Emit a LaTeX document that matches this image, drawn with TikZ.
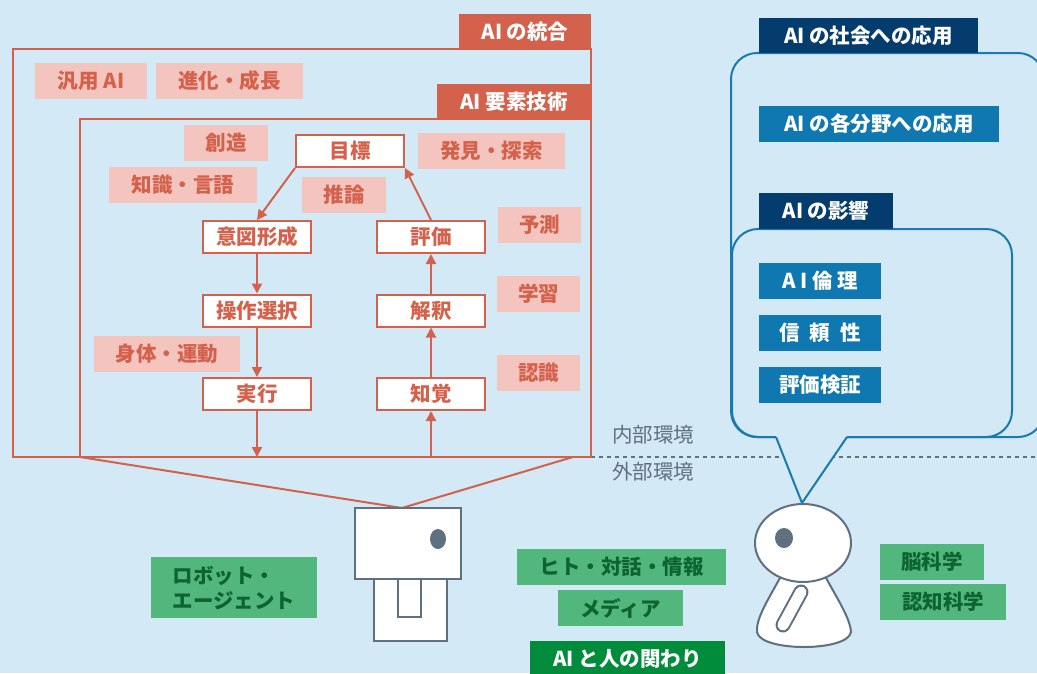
\documentclass[tikz,border=0pt]{standalone}
\usepackage{fontspec}
\setmainfont{Noto Sans CJK JP}
\usepackage{xcolor}
\usetikzlibrary{arrows.meta,positioning}
\definecolor{sky}{HTML}{D3E9F6}
\definecolor{brick}{HTML}{D4614B}
\definecolor{blush}{HTML}{F4C4BE}
\definecolor{leaf}{HTML}{52B77D}
\definecolor{forest}{HTML}{0E6431}
\definecolor{pine}{HTML}{008C3A}
\definecolor{navy}{HTML}{043C6E}
\definecolor{ocean}{HTML}{1078B0}
\definecolor{rim}{HTML}{1A7AAE}
\definecolor{slate}{HTML}{5F7080}
\tikzset{
  font=\fontsize{20.5}{25}\selectfont\bfseries,
  >={Triangle[length=10pt,width=10pt]},
  tagbase/.style={inner sep=0pt, minimum height=36pt, align=center},
  pinktag/.style={tagbase, fill=blush, text=brick},
  redtab/.style={tagbase, fill=brick, text=white, minimum height=35pt},
  stepbox/.style={draw=brick, line width=2pt, fill=white, text=brick,
    inner sep=0pt, minimum width=108pt, minimum height=32pt},
  navytab/.style={tagbase, fill=navy, text=white},
  bluetag/.style={tagbase, fill=ocean, text=white},
  greentag/.style={tagbase, fill=leaf, text=forest},
  envtext/.style={font=\fontsize{20.5}{25}\selectfont, text=slate, anchor=west, inner sep=0pt},
  frame/.style={draw=brick, line width=2pt},
  flow/.style={->, draw=brick, line width=2pt},
  bubble/.style={draw=rim, line width=2pt, rounded corners=26pt},
  figline/.style={draw=slate, line width=2pt, fill=white}
}

\begin{document}
\begin{tikzpicture}[x=1pt,y=-1pt]
  \useasboundingbox (0,0) rectangle (1037,673);
  \fill[sky] (0,0) rectangle (1037,673);

  % inside / outside border
  \draw[slate, line width=1.6pt, dash pattern=on 4pt off 4pt] (591,457) -- (1037,457);
  \node[envtext] (inner) at (612,435) {内部環境};
  \node[envtext] (outer) at (612,472) {外部環境};

  % frames of the AI side
  \draw[frame] (13,49) rectangle (591,457);
  \draw[frame] (80,119) rectangle (591,457);
  \node[redtab, minimum width=132pt] (integ) at (525,31.5) {AI の統合};
  \node[redtab, minimum width=154pt] (elem) at (514,101.5) {AI 要素技術};

  \node[pinktag, minimum width=112pt] (general) at (91,81)    {汎用 AI};
  \node[pinktag, minimum width=147pt] (growth)  at (229.5,81) {進化・成長};

  % topic labels
  \node[pinktag, minimum width=84pt]  (create)  at (226,143)   {創造};
  \node[pinktag, minimum width=148pt] (know)    at (183,185)   {知識・言語};
  \node[pinktag, minimum width=84pt]  (reason)  at (344,195)   {推論};
  \node[pinktag, minimum width=147pt] (explore) at (491.5,151) {発見・探索};
  \node[pinktag, minimum width=83pt]  (predict) at (539.5,225) {予測};
  \node[pinktag, minimum width=83pt]  (learn)   at (538.5,294) {学習};
  \node[pinktag, minimum width=83pt]  (recog)   at (538.5,373) {認識};
  \node[pinktag, minimum width=146pt] (motion)  at (167,354)   {身体・運動};

  % loop
  \node[stepbox] (goal)   at (350,151)   {目標};
  \node[stepbox] (intent) at (257,237)   {意図形成};
  \node[stepbox] (select) at (257,310.5) {操作選択};
  \node[stepbox] (act)    at (257,394)   {実行};
  \node[stepbox] (judge)  at (431,237)   {評価};
  \node[stepbox] (interp) at (431,310.5) {解釈};
  \node[stepbox] (sense)  at (431,394)   {知覚};
  \coordinate (actout) at (257,457);
  \coordinate (sensein) at (431,457);

  \draw[flow] (goal.south west) -- (intent.north);
  \draw[flow] (intent) -- (select);
  \draw[flow] (select) -- (act);
  \draw[flow] (act) -- (actout);
  \draw[flow] (sensein) -- (sense);
  \draw[flow] (sense) -- (interp);
  \draw[flow] (interp) -- (judge);
  \draw[flow] (judge.north) -- (goal.south east);

  % robot
  \coordinate (fanl) at (80,457);
  \coordinate (fanr) at (573,457);
  \coordinate (apex) at (402,508);
  \draw[frame] (fanl) -- (apex) -- (fanr);
  \node[figline, minimum width=73pt, minimum height=62pt] (rbody) at (410.5,610) {};
  \node[figline, minimum width=23pt, minimum height=38pt] (rslot) at (409.5,598) {};
  \node[figline, minimum width=106pt, minimum height=71pt] (rhead) at (408,543.5) {};
  \fill[slate] (438,539) ellipse [x radius=8, y radius=10];

  % society side
  \draw[bubble] (776,437) -- (731,437) -- (731,53) -- (1044,53) -- (1044,437) -- (847,437);
  \draw[bubble] (776,437) -- (732,437) -- (732,229) -- (1012,229) -- (1012,437) -- (847,437);
  \coordinate (tip) at (802,503);
  \fill[sky] (776,436) -- (tip) -- (847,436) -- cycle;
  \draw[rim, line width=2pt] (776,437) -- (tip) -- (847,437);

  \node[navytab, minimum width=219pt, minimum height=35pt] (society) at (868.5,35.5) {AI の社会への応用};
  \node[bluetag, minimum width=240pt] (fields) at (879,124) {AI の各分野への応用};
  \node[navytab, minimum width=134pt] (impact) at (826,211) {AI の影響};
  \node[bluetag, minimum width=122pt] (ethics) at (820,281) {A I 倫 理};
  \node[bluetag, minimum width=122pt] (trust)  at (820,333) {信\hspace{.5em}頼\hspace{.5em}性};
  \node[bluetag, minimum width=122pt] (verify) at (820,385) {評価検証};

  % human
  \draw[figline] (781,576) .. controls (768,600) and (756,618) .. (757,632)
    .. controls (760,652) and (848,652) .. (851,632)
    .. controls (850,618) and (838,600) .. (825,576) -- cycle;
  \draw[slate, line width=15pt, line cap=round] (801,592) -- (783,625);
  \draw[white, line width=11pt, line cap=round] (801,592) -- (783,625);
  \draw[figline] (803,543) ellipse [x radius=48, y radius=39];
  \fill[slate] (784,538) ellipse [x radius=9, y radius=10];

  % fields around people
  \node[greentag, minimum width=166pt, minimum height=61pt, align=left] (agent) at (234,587.5)
     {ロボット・\\エージェント};
  \node[greentag, minimum width=209pt] (people) at (621.5,567) {ヒト・対話・情報};
  \node[greentag, minimum width=125pt] (media)  at (620.5,608) {メディア};
  \node[tagbase, fill=pine, text=white, minimum width=195pt] (relation) at (627.5,659) {AI と人の関わり};
  \node[greentag, minimum width=104pt] (brain) at (932,562) {脳科学};
  \node[greentag, minimum width=126pt] (cogsci) at (943,602) {認知科学};
\end{tikzpicture}
\end{document}
